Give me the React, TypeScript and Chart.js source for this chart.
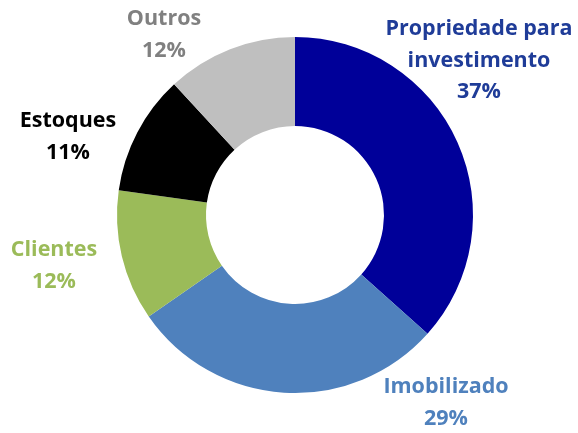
import React, { useEffect, useRef } from "react";
import { Chart, registerables } from "chart.js";

Chart.register(...registerables);

const categories = ["Propriedade para investimento", "Imobilizado", "Clientes", "Estoques", "Outros"];
const values = [37, 29, 12, 11, 12];
const sliceColors = ["#000099", "#4F81BD", "#9BBB59", "#000000", "#BFBFBF"];
const labelLines = [
  ["Propriedade para", "investimento", "37%"],
  ["Imobilizado", "29%"],
  ["Clientes", "12%"],
  ["Estoques", "11%"],
  ["Outros", "12%"],
];
const labelColors = ["#1F3C98", "#4F81BD", "#9BBB59", "#000000", "#808080"];
// label anchor (centre of first line), in canvas pixels
const labelAnchors = [
  { x: 479, y: 29 },
  { x: 446, y: 387 },
  { x: 54, y: 250 },
  { x: 68, y: 121 },
  { x: 164, y: 19 },
];

const labelPlugin = {
  id: "outerLabels",
  afterDraw(chart: any) {
    const ctx = chart.ctx;
    ctx.save();
    ctx.font = "bold 21.5px 'Open Sans', sans-serif";
    ctx.textAlign = "center";
    ctx.textBaseline = "middle";
    labelLines.forEach((lines, i) => {
      ctx.fillStyle = labelColors[i];
      lines.forEach((t, j) => {
        ctx.fillText(t, labelAnchors[i].x, labelAnchors[i].y + j * 31.5);
      });
    });
    ctx.restore();
  },
};

export default function App() {
  const ref = useRef<HTMLCanvasElement>(null);
  useEffect(() => {
    document.body.style.margin = "0";
    const chart = new Chart(ref.current!, {
      type: "doughnut",
      data: {
        labels: categories,
        datasets: [
          {
            data: values,
            backgroundColor: sliceColors,
            borderWidth: 0,
            hoverOffset: 0,
          },
        ],
      },
      options: {
        responsive: false,
        animation: false,
        cutout: "50%",
        layout: { padding: { left: 117, right: 105, top: 37, bottom: 40 } },
        plugins: { legend: { display: false }, tooltip: { enabled: false } },
      },
      plugins: [labelPlugin],
    });
    return () => chart.destroy();
  }, []);
  return (
    <div style={{ width: 578, height: 433, background: "#fff" }}>
      <canvas ref={ref} width={578} height={433} />
    </div>
  );
}
